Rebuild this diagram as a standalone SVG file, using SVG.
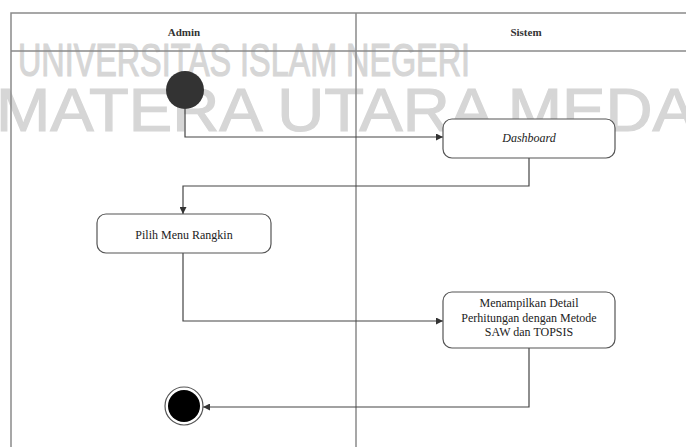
<svg xmlns="http://www.w3.org/2000/svg" width="686" height="447" viewBox="0 0 686 447">
<style>
.frame{stroke:#8a8a8a;stroke-width:1.5;fill:none}
.wm{font-family:"Liberation Sans",Arial,sans-serif;fill:#d6d6d6;stroke:#d6d6d6;stroke-width:1.2}
.hdr{font-size:11px;font-weight:bold;fill:#333;text-anchor:middle}
.box{fill:#fff;stroke:#555;stroke-width:1.2}
.lbl{font-size:12px;fill:#222;text-anchor:middle}
.conn{fill:none;stroke:#444;stroke-width:1.2}
</style>
<defs>
<marker id="arr" viewBox="0 0 10 10" refX="10" refY="5" markerWidth="7" markerHeight="7" markerUnits="userSpaceOnUse" orient="auto">
<path d="M0,0 L10,5 L0,10 z" fill="#333"/>
</marker>
</defs>
<rect width="686" height="447" fill="#fff"/>
<g id="watermark">
<text class="wm" x="18" y="76" font-size="46" textLength="452" lengthAdjust="spacingAndGlyphs">UNIVERSITAS ISLAM NEGERI</text>
<text class="wm" x="-4" y="131" font-size="62" textLength="700" lengthAdjust="spacingAndGlyphs">MATERA UTARA MEDA</text>
</g>
<g id="swimlanes" font-family="'Liberation Serif', 'Times New Roman', serif">
<path class="frame" d="M11,447 V13 H686 M11,51 H686 M356,13 V447"/>
<text class="hdr" x="184" y="36">Admin</text>
<text class="hdr" x="526" y="36">Sistem</text>
</g>
<g id="connectors">
<path class="conn" d="M185,109 V137 H443" marker-end="url(#arr)"/>
<path class="conn" d="M529,158 V186 H183 V214" marker-end="url(#arr)"/>
<path class="conn" d="M183,253 V321 H443" marker-end="url(#arr)"/>
<path class="conn" d="M529,348 V407 H203" marker-end="url(#arr)"/>
</g>
<g id="start">
<circle cx="185" cy="90" r="19" fill="#333"/>
</g>
<g id="dashboard" font-family="'Liberation Serif', 'Times New Roman', serif">
<rect class="box" x="443" y="119" width="172" height="39" rx="9"/>
<text class="lbl" x="529" y="142" font-style="italic">Dashboard</text>
</g>
<g id="pilih-menu" font-family="'Liberation Serif', 'Times New Roman', serif">
<rect class="box" x="97" y="214" width="174" height="39" rx="9"/>
<text class="lbl" x="184" y="239">Pilih Menu Rangkin</text>
</g>
<g id="menampilkan" font-family="'Liberation Serif', 'Times New Roman', serif">
<rect class="box" x="443" y="292" width="172" height="56" rx="9"/>
<text class="lbl" x="529" y="307">Menampilkan  Detail</text>
<text class="lbl" x="529" y="322">Perhitungan dengan Metode</text>
<text class="lbl" x="529" y="336">SAW dan TOPSIS</text>
</g>
<g id="end">
<circle cx="184" cy="406" r="19" fill="#fff" stroke="#555" stroke-width="1.2"/>
<circle cx="184" cy="406" r="16" fill="#000"/>
</g>
</svg>
